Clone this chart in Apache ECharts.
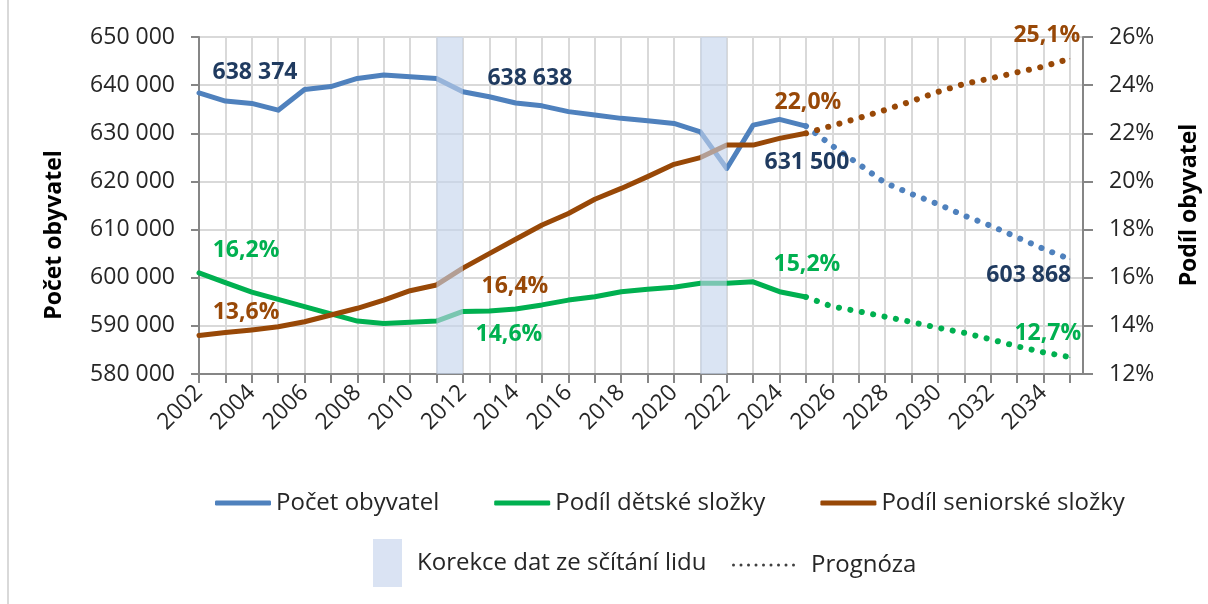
<!DOCTYPE html>
<html>
<head>
<meta charset="utf-8">
<title>Počet obyvatel</title>
<script src="https://cdn.jsdelivr.net/npm/echarts@6.0.0/dist/echarts.min.js"></script>
<style>
html, body { margin: 0; padding: 0; background: #fff; }
#chart { width: 1208px; height: 604px; }
</style>
</head>
<body>
<div id="chart"></div>
<script>
// roky - skutečnost a prognóza
var actualYears = [2002, 2003, 2004, 2005, 2006, 2007, 2008, 2009, 2010, 2011, 2012, 2013,
                   2014, 2015, 2016, 2017, 2018, 2019, 2020, 2021, 2022, 2023, 2024, 2025];
var forecastYears = [2025, 2026, 2027, 2028, 2029, 2030, 2031, 2032, 2033, 2034, 2035];

// počet obyvatel
var population = [638374, 636700, 636200, 634800, 639100, 639700, 641400, 642100, 641750, 641400, 638638, 637600,
                  636300, 635700, 634500, 633800, 633100, 632600, 632050, 630300, 622700, 631700, 632900, 631500];
var populationForecast = [631500, 627400, 623600, 619700, 617400, 615300, 612900, 610800, 608400, 606000, 603868];

// podíl dětské složky (%)
var childShare = [16.2, 15.8, 15.4, 15.1, 14.8, 14.5, 14.2, 14.1, 14.15, 14.2, 14.6, 14.62,
                  14.7, 14.87, 15.07, 15.21, 15.42, 15.52, 15.6, 15.77, 15.77, 15.83, 15.42, 15.2];
var childForecast = [15.2, 14.8, 14.6, 14.38, 14.16, 13.92, 13.71, 13.44, 13.15, 12.9, 12.7];

// podíl seniorské složky (%)
var seniorShare = [13.6, 13.72, 13.83, 13.96, 14.17, 14.45, 14.73, 15.07, 15.46, 15.7, 16.4, 17.0,
                   17.6, 18.19, 18.67, 19.26, 19.71, 20.2, 20.71, 20.99, 21.51, 21.51, 21.79, 22.0];
var seniorForecast = [22.0, 22.32, 22.63, 22.97, 23.33, 23.72, 24.05, 24.28, 24.53, 24.77, 25.1];

// korekce dat ze sčítání lidu
var censusBands = [[2011, 2012], [2021, 2022]];

var FONT = '"Open Sans", "Noto Sans", sans-serif';
var BLUE = '#4f81bd', GREEN = '#00b050', BROWN = '#984807';
var AXIS = '#868686', GRID = '#d9d9d9', TEXT = '#262626';

function fmtThousands(v) {
    return String(Math.round(v)).replace(/\B(?=(\d{3})+(?!\d))/g, ' ');
}
function fmtPct(v) {
    return v.toFixed(1).replace('.', ',') + '%';
}

// data s popisky u vybraných let
function buildData(years, values, offsets, color, fmt) {
    return years.map(function (y, i) {
        var item = { value: [y, values[i]] };
        if (offsets[y]) {
            item.symbol = 'circle';
            item.symbolSize = 1;
            item.label = {
                show: true,
                position: 'inside',
                offset: offsets[y],
                color: color,
                fontFamily: FONT,
                fontWeight: 'bold',
                fontSize: 23,
                formatter: function (p) { return fmt(p.value[1]); }
            };
        }
        return item;
    });
}

var popOffsets = { 2002: [56, -21], 2012: [67, -13], 2025: [1, 36] };
var popFcOffsets = { 2035: [-41, 16] };
var childOffsets = { 2002: [47, -22], 2012: [46, 23], 2025: [1, -33] };
var childFcOffsets = { 2035: [-22, -24] };
var seniorOffsets = { 2002: [47, -23], 2012: [52, 18], 2025: [2, -31] };
var seniorFcOffsets = { 2035: [-23, -23] };

function solid(color) {
    return { color: color, width: 5, cap: 'round', join: 'round' };
}
function dotted(color) {
    return { color: color, width: 6, type: [0.1, 11.5], cap: 'round' };
}

// ikona legendy "Prognóza" - řada teček
var dotPath = 'path://';
for (var k = 0; k < 9; k++) {
    var cx = 1.5 + k * 7.5;
    dotPath += 'M' + (cx - 1.5) + ',1.5 a1.5,1.5 0 1,0 3,0 a1.5,1.5 0 1,0 -3,0 ';
}

var chart = echarts.init(document.getElementById('chart'));

var option = {
    animation: false,
    backgroundColor: '#fff',
    grid: {
        left: 199,
        right: 125,
        top: 37,
        bottom: 230,
        containLabel: false,
        outerBoundsMode: 'none'
    },
    legend: [{
        left: 215,
        top: 491,
        padding: 0,
        icon: 'roundRect',
        itemWidth: 56,
        itemHeight: 5,
        itemGap: 55,
        textStyle: { fontFamily: FONT, fontSize: 24, color: TEXT },
        data: [
            { name: 'Počet obyvatel', itemStyle: { color: BLUE } },
            { name: 'Podíl dětské složky', itemStyle: { color: GREEN } },
            { name: 'Podíl seniorské složky', itemStyle: { color: BROWN } }
        ]
    }, {
        left: 373,
        top: 539,
        padding: 0,
        itemWidth: 29,
        itemHeight: 48,
        textStyle: { fontFamily: FONT, fontSize: 24, color: TEXT, padding: [0, 0, 0, 10] },
        data: [{ name: 'Korekce dat ze sčítání lidu', icon: 'rect', itemStyle: { color: '#dae3f3', borderWidth: 0 } }]
    }, {
        left: 732,
        top: 553,
        padding: 0,
        itemWidth: 63,
        itemHeight: 3,
        textStyle: { fontFamily: FONT, fontSize: 24, color: TEXT, padding: [0, 0, 0, 11] },
        data: [{ name: 'Prognóza', icon: dotPath, itemStyle: { color: '#404040', borderWidth: 0 } }]
    }],
    xAxis: {
        type: 'value',
        min: 2002,
        max: 2035.5,
        interval: 1,
        axisLine: { show: true, lineStyle: { color: AXIS, width: 2 } },
        axisTick: { show: true, length: 9, lineStyle: { color: AXIS, width: 2 } },
        splitLine: { show: true, lineStyle: { color: GRID, width: 2 } },
        axisLabel: {
            rotate: 45,
            margin: 15,
            fontFamily: FONT,
            fontSize: 23,
            color: TEXT,
            showMaxLabel: false,
            formatter: function (v) { return v % 2 === 0 ? String(v) : ''; }
        }
    },
    yAxis: [{
        type: 'value',
        min: 580000,
        max: 650000,
        interval: 10000,
        axisLine: { show: true, lineStyle: { color: AXIS, width: 2 } },
        axisTick: { show: true, length: 8, lineStyle: { color: AXIS, width: 2 } },
        splitLine: { show: true, lineStyle: { color: GRID, width: 2 } },
        axisLabel: {
            margin: 24,
            fontFamily: FONT,
            fontSize: 23,
            color: TEXT,
            formatter: fmtThousands
        }
    }, {
        type: 'value',
        position: 'right',
        min: 12,
        max: 26,
        interval: 2,
        axisLine: { show: true, lineStyle: { color: AXIS, width: 2 } },
        axisTick: { show: true, length: 10, lineStyle: { color: AXIS, width: 2 } },
        splitLine: { show: false },
        axisLabel: {
            margin: 26,
            fontFamily: FONT,
            fontSize: 23,
            color: TEXT,
            formatter: function (v) { return v + '%'; }
        }
    }],
    graphic: [{
        type: 'line',
        shape: { x1: 8, y1: 0, x2: 8, y2: 604 },
        style: { stroke: GRID, lineWidth: 2 }
    }, {
        type: 'text',
        x: 54,
        y: 235,
        rotation: Math.PI / 2,
        style: {
            text: 'Počet obyvatel',
            font: 'bold 23px ' + FONT,
            fill: '#000',
            align: 'center',
            verticalAlign: 'middle'
        }
    }, {
        type: 'text',
        x: 1189,
        y: 205,
        rotation: Math.PI / 2,
        style: {
            text: 'Podíl obyvatel',
            font: 'bold 23px ' + FONT,
            fill: '#000',
            align: 'center',
            verticalAlign: 'middle'
        }
    }],
    series: [{
        name: 'Počet obyvatel',
        type: 'line',
        yAxisIndex: 0,
        symbol: 'none',
        color: BLUE,
        lineStyle: solid(BLUE),
        data: buildData(actualYears, population, popOffsets, '#1f3a5f', fmtThousands)
    }, {
        name: 'Podíl dětské složky',
        type: 'line',
        yAxisIndex: 1,
        symbol: 'none',
        color: GREEN,
        lineStyle: solid(GREEN),
        data: buildData(actualYears, childShare, childOffsets, GREEN, fmtPct)
    }, {
        name: 'Podíl seniorské složky',
        type: 'line',
        yAxisIndex: 1,
        symbol: 'none',
        color: BROWN,
        lineStyle: solid(BROWN),
        data: buildData(actualYears, seniorShare, seniorOffsets, BROWN, fmtPct)
    }, {
        name: 'Počet obyvatel',
        type: 'line',
        yAxisIndex: 0,
        symbol: 'none',
        color: BLUE,
        lineStyle: dotted(BLUE),
        data: buildData(forecastYears, populationForecast, popFcOffsets, '#1f3a5f', fmtThousands)
    }, {
        name: 'Podíl dětské složky',
        type: 'line',
        yAxisIndex: 1,
        symbol: 'none',
        color: GREEN,
        lineStyle: dotted(GREEN),
        data: buildData(forecastYears, childForecast, childFcOffsets, GREEN, fmtPct)
    }, {
        name: 'Podíl seniorské složky',
        type: 'line',
        yAxisIndex: 1,
        symbol: 'none',
        color: BROWN,
        lineStyle: dotted(BROWN),
        data: buildData(forecastYears, seniorForecast, seniorFcOffsets, BROWN, fmtPct)
    }, {
        name: 'Korekce dat ze sčítání lidu',
        type: 'line',
        yAxisIndex: 0,
        z: 10,
        color: '#dae3f3',
        data: [],
        markArea: {
            silent: true,
            z: 10,
            itemStyle: { color: 'rgba(196, 211, 236, 0.62)' },
            data: censusBands.map(function (b) {
                return [{ xAxis: b[0] }, { xAxis: b[1] }];
            })
        }
    }, {
        name: 'Prognóza',
        type: 'line',
        yAxisIndex: 0,
        color: '#404040',
        data: []
    }]
};

chart.setOption(option);
</script>
</body>
</html>
